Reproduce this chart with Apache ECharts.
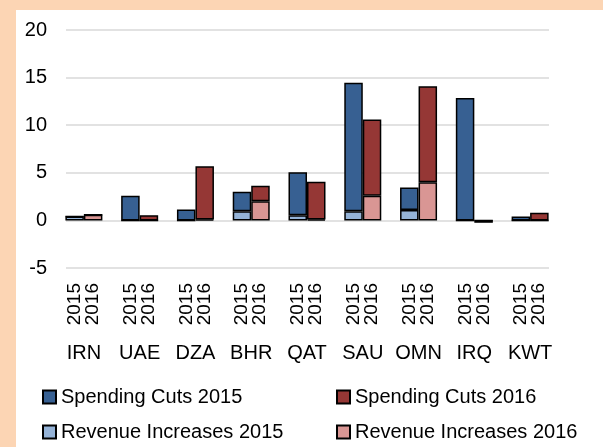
<!DOCTYPE html>
<html>
<head>
    <meta charset="utf-8" />
    <title>Fiscal consolidation</title>
    <script type="text/javascript" src="https://cdn.jsdelivr.net/npm/echarts@6/dist/echarts.min.js"></script>
    <style>
        html, body {
            margin: 0;
            width: 603px;
            height: 447px;
            background: #fcd5b4;
            overflow: hidden;
        }
        #paper {
            position: absolute;
            left: 16px;
            top: 10px;
            right: 0;
            bottom: 0;
            background: #fff;
        }
        #main {
            position: absolute;
            left: 0;
            top: 0;
            width: 603px;
            height: 447px;
        }
    </style>
</head>
<body>
    <div id="paper"></div>
    <div id="main"></div>
    <script type="text/javascript">
        // data (percent)
        var countries = ['IRN', 'UAE', 'DZA', 'BHR', 'QAT', 'SAU', 'OMN', 'IRQ', 'KWT'];
        var revenue2015 = [0.4, 0, 0, 0.95, 0.55, 0.95, 1.1, 0, 0];
        var spending2015 = [0, 2.6, 1.15, 2.05, 4.5, 13.5, 2.35, 12.85, 0.4];
        var revenue2016 = [0.6, 0, 0.1, 2.0, 0.1, 2.6, 4.0, 0, 0];
        var spending2016 = [0, 0.55, 5.6, 1.65, 3.95, 8.0, 10.1, -0.25, 0.8];
        var yearLabels = ['2015', '2016'];

        var font = "'Liberation Sans', Arial, sans-serif";

        function barSeries(name, data, stack, color) {
            return {
                name: name,
                type: 'bar',
                stack: stack,
                xAxisIndex: 0,
                yAxisIndex: 1,
                barWidth: 18.5,
                barGap: '0%',
                data: data,
                itemStyle: { color: color, borderColor: '#000', borderWidth: 1.5 }
            };
        }

        function legendAt(name, left, top) {
            return {
                data: [name],
                left: left,
                top: top,
                padding: 0,
                icon: 'rect',
                itemWidth: 13,
                itemHeight: 13,
                itemGap: 3,
                selectedMode: false,
                textStyle: { fontFamily: font, fontSize: 20, color: '#000' }
            };
        }

        var myChart = echarts.init(document.getElementById('main'));

        var option = {
            animation: false,
            textStyle: { fontFamily: font },
            grid: [
                // grid lines + y labels
                { left: 66, right: 54, top: 30, height: 238, containLabel: false },
                // bars
                { left: 56, right: 45, top: 30, height: 238, containLabel: false }
            ],
            xAxis: [
                {
                    type: 'category', gridIndex: 1, data: countries,
                    axisLine: { show: false }, axisTick: { show: false },
                    axisLabel: {
                        rotate: 90, margin: 15, fontSize: 19, color: '#000',
                        lineHeight: 18, interval: 0,
                        formatter: function () { return yearLabels.join('\n'); }
                    }
                },
                {
                    type: 'category', gridIndex: 1, data: countries, position: 'bottom',
                    axisLine: { show: false }, axisTick: { show: false },
                    axisLabel: { margin: 75, fontSize: 20, color: '#000', interval: 0 }
                },
                { type: 'category', gridIndex: 0, data: countries, show: false }
            ],
            yAxis: [
                {
                    type: 'value', gridIndex: 0, min: -5, max: 20, interval: 5,
                    axisLine: { show: false }, axisTick: { show: false },
                    axisLabel: { margin: 19, fontSize: 20, color: '#000' },
                    splitLine: { lineStyle: { color: '#d9d9d9', width: 1.5 } }
                },
                { type: 'value', gridIndex: 1, min: -5, max: 20, interval: 5, show: false, splitLine: { show: false } }
            ],
            legend: [
                legendAt('Spending Cuts 2015', 42, 387),
                legendAt('Spending Cuts 2016', 336, 387),
                legendAt('Revenue Increases 2015', 42, 422),
                legendAt('Revenue Increases 2016', 336, 422)
            ],
            series: [
                barSeries('Revenue Increases 2015', revenue2015, 'y2015', '#95b3d7'),
                barSeries('Spending Cuts 2015', spending2015, 'y2015', '#376092'),
                barSeries('Revenue Increases 2016', revenue2016, 'y2016', '#d99694'),
                barSeries('Spending Cuts 2016', spending2016, 'y2016', '#953735')
            ]
        };

        myChart.setOption(option);
    </script>
</body>
</html>
